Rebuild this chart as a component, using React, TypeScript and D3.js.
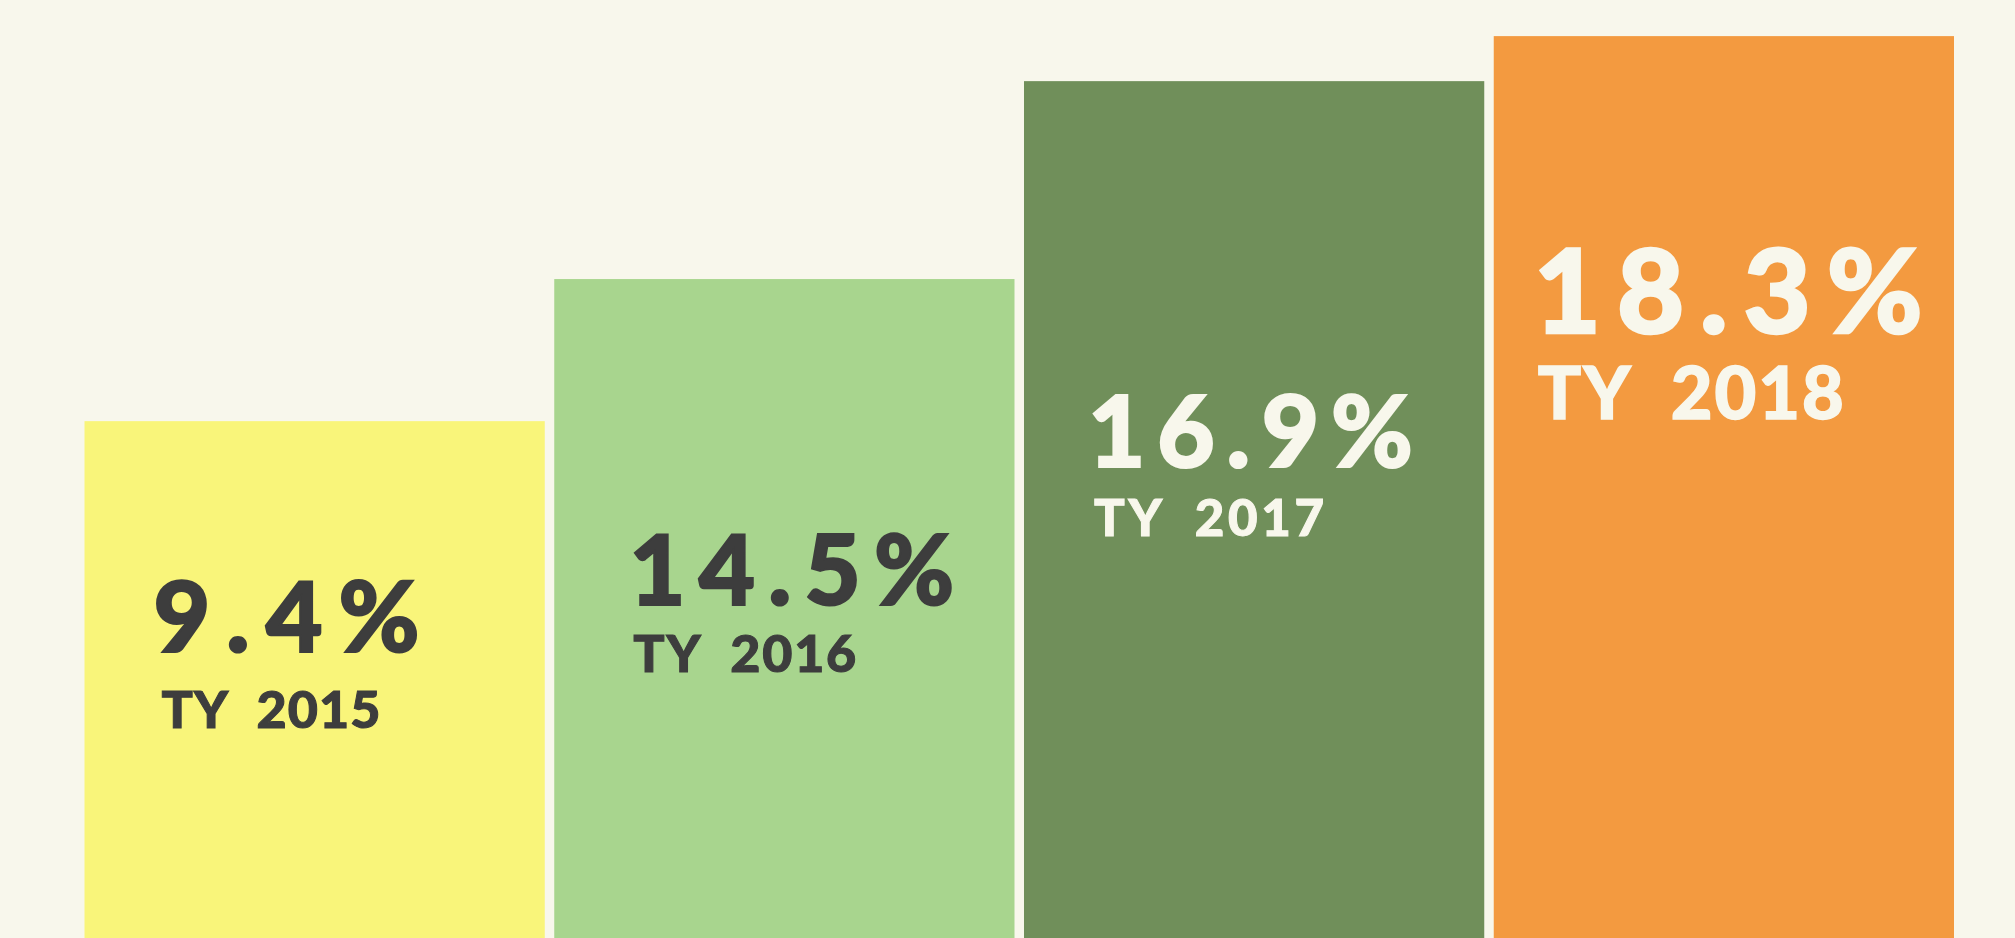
import React from "react";
import * as d3 from "d3";

// ---- data ----
const years = ["TY 2015", "TY 2016", "TY 2017", "TY 2018"];
const rates = [9.4, 14.5, 16.9, 18.3];
// visual bar level as drawn in the graphic (not proportional to the rate)
const barLevels = [11.02, 14.05, 18.27, 19.23];
const barColors = ["#F9F57A", "#A8D58E", "#708F5A", "#F39A40"];
const textColors = ["#3D3D3D", "#3D3D3D", "#F8F7EC", "#F8F7EC"];

// ---- layout (styles / positions, not data) ----
const W = 2015;
const H = 938;
const BG = "#F8F7EC";
const labelLayout = [
  { dx: 69, bigBase: 231, smallBase: 307, bigSize: 98, smallSize: 52, bigW: 266, smallW: 219, smallDx: 77 },
  { dx: 75, bigBase: 326, smallBase: 393, bigSize: 97, smallSize: 52, bigW: 325, smallW: 223, smallDx: 79 },
  { dx: 64, bigBase: 386, smallBase: 455, bigSize: 99, smallSize: 51, bigW: 325, smallW: 230, smallDx: 70 },
  { dx: 40, bigBase: 297, smallBase: 383, bigSize: 116, smallSize: 72, bigW: 389, smallW: 306, smallDx: 44 },
];

export default function App() {
  const x = d3.scaleBand<string>().domain(years).range([84.5, 1954]).paddingInner(0.0202).paddingOuter(0);
  const y = d3.scaleLinear().domain([0, 20]).range([H, 0]);
  const fmt = (v: number) => d3.format(".1f")(v) + "%";

  return (
    <svg
      width={W}
      height={H}
      style={{ position: "absolute", left: 0, top: 0, display: "block", background: BG }}
      fontFamily="Lato, 'Open Sans', sans-serif"
    >
      <rect x={0} y={0} width={W} height={H} fill={BG} />
      {years.map((yr, i) => {
        const bx = x(yr)!;
        const top = y(barLevels[i]);
        const L = labelLayout[i];
        return (
          <g key={yr}>
            <rect x={bx} y={top} width={x.bandwidth()} height={H - top} fill={barColors[i]} />
            <text
              x={bx + L.dx}
              y={top + L.bigBase}
              fontSize={L.bigSize}
              fontWeight={900}
              fill={textColors[i]}
              stroke={textColors[i]}
              strokeWidth={L.bigSize * 0.022}
              strokeLinejoin="miter"
              textLength={L.bigW}
              lengthAdjust="spacing"
            >
              {fmt(rates[i])}
            </text>
            <text
              x={bx + L.smallDx}
              y={top + L.smallBase}
              fontSize={L.smallSize}
              fontWeight={900}
              fill={textColors[i]}
              stroke={textColors[i]}
              strokeWidth={L.smallSize * 0.02}
              strokeLinejoin="miter"
              textLength={L.smallW}
              lengthAdjust="spacing"
            >
              {yr.replace(" ", "\u2002")}
            </text>
          </g>
        );
      })}
    </svg>
  );
}
